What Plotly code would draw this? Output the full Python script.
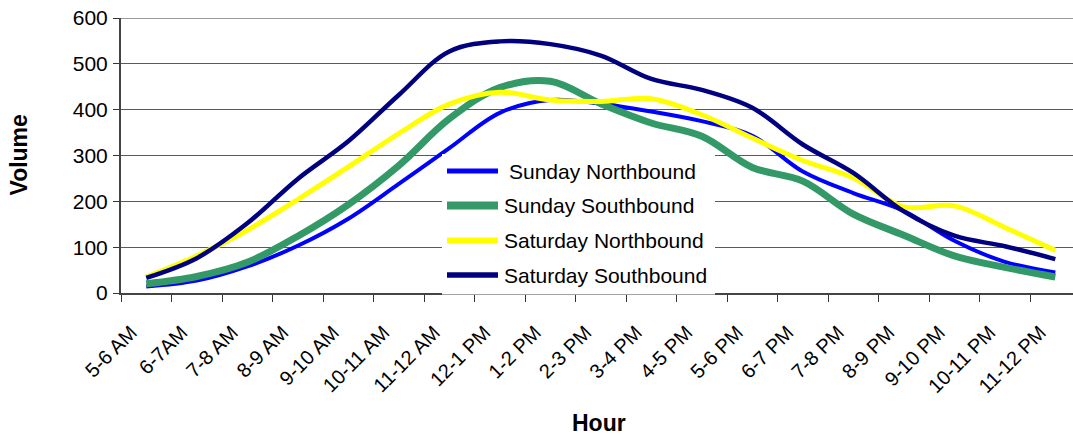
import plotly.graph_objects as go

# ---------------- data ----------------
hours = ["5-6 AM", "6-7AM", "7-8 AM", "8-9 AM", "9-10 AM", "10-11 AM", "11-12 AM",
         "12-1 PM", "1-2 PM", "2-3 PM", "3-4 PM", "4-5 PM", "5-6 PM", "6-7 PM",
         "7-8 PM", "8-9 PM", "9-10 PM", "10-11 PM", "11-12 PM"]
sunday_nb = [14, 27, 58, 103, 162, 238, 316, 393, 421, 413, 396, 375, 343, 265, 218, 179, 114, 68, 45]
sunday_sb = [20, 36, 67, 124, 193, 278, 380, 448, 462, 413, 371, 342, 274, 244, 172, 126, 81, 56, 35]
saturday_nb = [35, 81, 137, 204, 275, 348, 412, 438, 421, 418, 424, 389, 338, 289, 251, 188, 190, 143, 93]
saturday_sb = [33, 76, 152, 249, 331, 432, 527, 549, 543, 518, 467, 443, 404, 324, 262, 178, 125, 102, 74]
y_ticks = [0, 100, 200, 300, 400, 500, 600]

series_names = ["Sunday Northbound", "Sunday Southbound", "Saturday Northbound", "Saturday Southbound"]
series_values = [sunday_nb, sunday_sb, saturday_nb, saturday_sb]
series_colors = ["#0000FF", "#339966", "#FFFF00", "#000080"]
series_widths = [4, 7, 5, 4.5]

FONT = "Liberation Sans, Arial, sans-serif"

# plot area geometry (pixels)
W, H = 1073, 435
ML, MR, MT, MB = 121, 0, 18, 142
PW, PH = W - ML - MR, H - MT - MB


def px_x(p):
    return (p - ML) / PW


def px_y(p):
    return (H - MB - p) / PH


fig = go.Figure()
for name, vals, col, wid in zip(series_names, series_values, series_colors, series_widths):
    fig.add_trace(go.Scatter(
        x=hours, y=vals, name=name, mode="lines",
        line=dict(color=col, width=wid, shape="spline", smoothing=1.0),
        showlegend=False, hoverinfo="skip",
    ))

shapes = []
# top border line at 600
shapes.append(dict(type="line", xref="paper", yref="y", x0=0, x1=1, y0=600, y1=600,
                   line=dict(color="#9a9a9a", width=2), layer="above"))
# legend box
leg_x0, leg_x1, leg_top, leg_bot = 442, 715, 154, 294.5
shapes.append(dict(type="rect", xref="paper", yref="paper",
                   x0=px_x(leg_x0), x1=px_x(leg_x1), y0=px_y(leg_bot), y1=px_y(leg_top),
                   fillcolor="white", line=dict(width=0), layer="above"))
rows = [171, 205.5, 240.5, 275]
text_x = [507, 502, 502, 502]
annotations = []
for name, col, wid, ry, tx in zip(series_names, series_colors, series_widths, rows, text_x):
    shapes.append(dict(type="line", xref="paper", yref="paper",
                       x0=px_x(447), x1=px_x(498), y0=px_y(ry), y1=px_y(ry),
                       line=dict(color=col, width=wid + 1), layer="above"))
    annotations.append(dict(text=name, xref="paper", yref="paper", x=px_x(tx), y=px_y(ry),
                            xanchor="left", yanchor="middle", showarrow=False,
                            font=dict(family=FONT, size=21, color="black")))

# axis titles
annotations.append(dict(text="Volume", xref="paper", yref="paper", x=px_x(18.5), y=px_y(155),
                        xanchor="center", yanchor="middle", textangle=-90, showarrow=False,
                        font=dict(family=FONT, size=23, color="black", weight="bold")))
annotations.append(dict(text="Hour", xref="paper", yref="paper", x=px_x(599), y=px_y(423),
                        xanchor="center", yanchor="middle", showarrow=False,
                        font=dict(family=FONT, size=23, color="black", weight="bold")))

fig.update_layout(
    width=W, height=H,
    margin=dict(l=ML, r=MR, t=MT, b=MB, pad=0),
    paper_bgcolor="white", plot_bgcolor="white",
    font=dict(family=FONT, size=20, color="black"),
    shapes=shapes, annotations=annotations,
    showlegend=False,
)
fig.update_xaxes(
    type="category", categoryorder="array", categoryarray=hours,
    range=[-0.5, 18.35], tickson="boundaries",
    ticks="outside", ticklen=7, tickcolor="#333", tickwidth=1,
    showline=True, linecolor="#444", linewidth=2,
    showgrid=False, tickangle=-45, ticklabelstandoff=18, ticklabelshift=-15,
    tickfont=dict(family=FONT, size=20, color="black"),
    fixedrange=True,
)
fig.update_yaxes(
    range=[0, 600], tickvals=y_ticks, ticktext=[str(v) for v in y_ticks],
    ticks="outside", ticklen=6, tickcolor="#333", tickwidth=1,
    showline=True, linecolor="#444", linewidth=2,
    showgrid=True, gridcolor="#5a5a5a", gridwidth=1,
    zeroline=False, ticklabelstandoff=1,
    tickfont=dict(family=FONT, size=21, color="black"),
    fixedrange=True,
)

fig.write_html(
    "out.html",
    config={"displayModeBar": False},
    post_script="document.body.style.margin='0';document.body.style.overflow='hidden';",
)
